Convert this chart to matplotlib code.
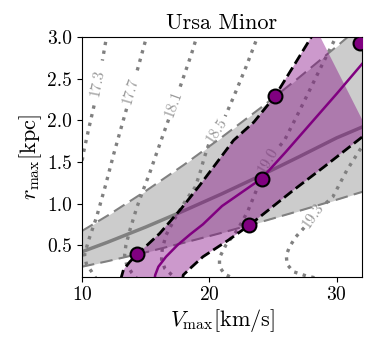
import numpy as np
import matplotlib
matplotlib.use('Agg')
import matplotlib.pyplot as plt

plt.rcParams['font.family'] = 'serif'
plt.rcParams['font.serif'] = ['cmr10']
plt.rcParams['mathtext.fontset'] = 'cm'
plt.rcParams['axes.formatter.use_mathtext'] = True

# gray band (power-law relation with scatter)
band_v = [10, 12, 15, 18, 21, 24, 27, 30, 32, 33]
band_hi = [0.67, 0.854, 1.15, 1.465, 1.80, 2.147, 2.51, 2.89, 3.15, 3.28]
band_mid = [0.42, 0.534, 0.717, 0.913, 1.118, 1.334, 1.559, 1.79, 1.92, 2.0]
band_lo = [0.24, 0.306, 0.413, 0.528, 0.649, 0.776, 0.909, 1.046, 1.14, 1.19]

# purple region boundaries
left_v = [13.05, 13.1, 13.25, 13.76, 14.35, 16.1, 17.8, 19.25, 21.9, 23.5, 25.15, 26.6, 28.0, 28.4]
left_r = [0.08, 0.12, 0.20, 0.30, 0.39, 0.64, 0.94, 1.22, 1.76, 1.98, 2.29, 2.65, 3.0, 3.1]
right_v = [17.9, 17.95, 18.5, 19.5, 21.5, 23.15, 26.6, 29.0, 32.0, 32.5]
right_r = [0.08, 0.14, 0.22, 0.36, 0.56, 0.74, 1.16, 1.44, 1.80, 1.86]
mid_v = [15.7, 15.75, 16.0, 16.6, 17.5, 18.5, 19.5, 21.0, 22.5, 24.1, 26.0, 28.0, 30.0, 32.0, 32.5]
mid_r = [0.08, 0.14, 0.24, 0.36, 0.50, 0.63, 0.75, 0.97, 1.13, 1.30, 1.62, 1.97, 2.32, 2.68, 2.77]

# marked points
dot_v = [14.35, 23.15, 24.1, 25.15, 31.8]
dot_r = [0.39, 0.74, 1.30, 2.29, 2.93]

# dotted contour levels: (upper piece, lower piece, label position, rotation)
contours = {
    '17.3': ([(11.98, 3.05), (11.6, 2.72)],
             [(10.95, 2.18), (10.5, 1.88), (10.1, 1.6), (9.8, 1.3)],
             (11.25, 2.45), 79),
    '17.7': ([(15.15, 3.05), (14.3, 2.58)],
             [(13.5, 2.14), (13.24, 2.0), (12.5, 1.6), (11.85, 1.22), (11.15, 0.84),
              (10.5, 0.55), (10.2, 0.38), (10.35, 0.27), (10.76, 0.18), (11.1, 0.1)],
             (13.85, 2.36), 74),
    '18.1': ([(19.1, 3.05), (18.6, 2.8), (17.7, 2.4)],
             [(16.8, 2.01), (16.4, 1.84), (15.8, 1.58), (15.3, 1.36), (14.8, 1.16),
              (14.3, 0.95), (13.76, 0.68), (13.45, 0.5), (13.35, 0.38), (13.5, 0.27),
              (13.9, 0.17), (14.3, 0.1)],
             (17.2, 2.2), 70),
    '18.5': ([(23.9, 3.05), (22.9, 2.65), (21.9, 2.28), (21.25, 2.05)],
             [(19.95, 1.71), (19.6, 1.55), (19.25, 1.36), (18.9, 1.2), (18.2, 1.05),
              (17.4, 0.85), (16.6, 0.62), (16.3, 0.45), (16.25, 0.33), (16.5, 0.22),
              (17.2, 0.12), (17.6, 0.08)],
             (20.6, 1.88), 57),
    '19.0': ([(30.1, 3.05), (28.7, 2.62), (27.9, 2.37), (26.9, 2.06), (25.9, 1.76),
              (25.3, 1.65)],
             [(24.0, 1.36), (23.7, 1.16), (23.0, 0.9), (22.2, 0.68), (21.3, 0.5),
              (20.8, 0.35), (20.8, 0.24), (21.2, 0.15), (21.9, 0.1)],
             (24.6, 1.52), 60),
    '19.3': ([(32.3, 1.75), (31.8, 1.64), (30.8, 1.40), (29.7, 1.08), (29.05, 0.99)],
             [(27.45, 0.71), (26.8, 0.60), (26.3, 0.48), (26.05, 0.38), (26.1, 0.27),
              (26.6, 0.18), (27.6, 0.13), (28.5, 0.1)],
             (28.2, 0.86), 55),
}

fig = plt.figure(figsize=(3.71, 3.41), dpi=100)
ax = fig.add_axes([0.221, 0.1886, 0.755, 0.702])

for lab, (up, lo, pos, rot) in contours.items():
    for seg in (up, lo):
        seg = np.array(seg)
        ax.plot(seg[:, 0], seg[:, 1], ':', color='gray', lw=2.4, zorder=1)
    ax.text(pos[0], pos[1], lab, color='#999999', fontsize=11, rotation=rot,
            ha='center', va='center', zorder=1)

ax.fill_between(band_v, band_lo, band_hi, color='gray', alpha=0.4, lw=0, zorder=2)
ax.plot(band_v, band_hi, '--', color='gray', lw=1.5, dashes=(6, 3), zorder=2)
ax.plot(band_v, band_lo, '--', color='gray', lw=1.5, dashes=(6, 3), zorder=2)
ax.plot(band_v, band_mid, '-', color='gray', lw=2.5, zorder=2)

poly_v = left_v + right_v[::-1]
poly_r = left_r + right_r[::-1]
ax.fill(poly_v, poly_r, color='purple', alpha=0.4, lw=0, zorder=3)
ax.plot(left_v, left_r, '--', color='black', lw=2, zorder=4)
ax.plot(right_v, right_r, '--', color='black', lw=2, zorder=4)
ax.plot(mid_v, mid_r, '-', color='purple', lw=1.8, zorder=4)

ax.plot(dot_v, dot_r, 'o', ms=10, mfc='purple', mec='black', mew=1.5, zorder=5)

ax.set_xlim(10, 32)
ax.set_ylim(0.12, 3.0)
ax.set_xticks([10, 20, 30])
ax.set_yticks([0.5, 1.0, 1.5, 2.0, 2.5, 3.0])
ax.set_yticklabels(['0.5', '1.0', '1.5', '2.0', '2.5', '3.0'])
ax.tick_params(labelsize=14)
ax.set_xlabel(r'$V_{\rm max}[{\rm km/s}]$', fontsize=16, labelpad=2)
ax.set_ylabel(r'$r_{\rm max}[{\rm kpc}]$', fontsize=16, labelpad=2)
ax.set_title('Ursa Minor', fontsize=16, pad=6)

fig.savefig('out.png', dpi=100)
